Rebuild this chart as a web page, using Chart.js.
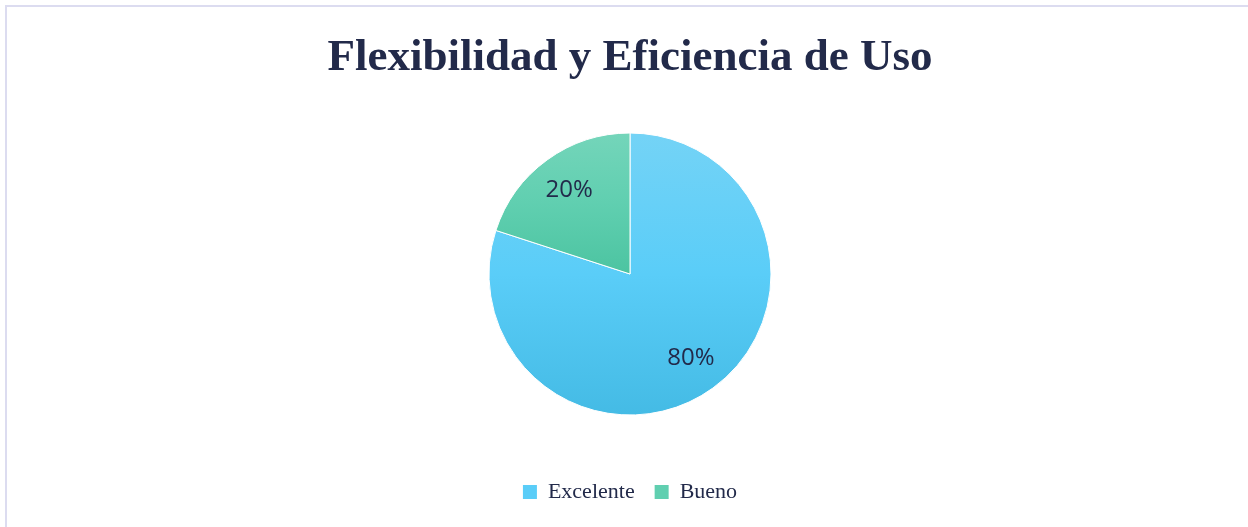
<!DOCTYPE html>
<html>
<head>
<meta charset="utf-8">
<script src="https://cdn.jsdelivr.net/npm/chart.js@4"></script>
<style>
  html, body { margin: 0; padding: 0; background: #fff; }
  #wrap { width: 1248px; height: 527px; position: relative; }
</style>
</head>
<body>
<div id="wrap"><canvas id="chartFlex"></canvas></div>
<script>
const categorias = ['Excelente', 'Bueno'];
const porcentajes = [80, 20];

// degradados verticales de cada sector (arriba -> abajo)
const degradados = [
  ['#74d3f6', '#5acdf8', '#44bbe5'],
  ['#74d5ba', '#60cfb0', '#4cc4a1']
];
const tinta = '#222a4a';

function pieBox(chart) {
  const a = chart.chartArea;
  const r = chart.getDatasetMeta(0).controller.outerRadius || Math.min(a.right - a.left, a.bottom - a.top) / 2;
  const cy = (a.top + a.bottom) / 2;
  return { cy, r };
}

function fillFor(ctx) {
  const chart = ctx.chart;
  if (!chart.chartArea) return degradados[ctx.dataIndex][1];
  const { cy, r } = pieBox(chart);
  const stops = degradados[ctx.dataIndex];
  // el sector pequeño solo ocupa la mitad superior
  const y1 = ctx.dataIndex === 1 ? cy : cy + r;
  const g = chart.ctx.createLinearGradient(0, cy - r, 0, y1);
  stops.forEach((c, i) => g.addColorStop(i / (stops.length - 1), c));
  return g;
}

const marco = {
  id: 'marco',
  beforeDraw(chart) {
    const c = chart.ctx;
    c.save();
    c.fillStyle = '#dcdcf0';
    c.fillRect(5, 5, chart.width - 5, 2);
    c.fillRect(5, 5, 2, chart.height - 5);
    c.restore();
  }
};

const etiquetas = {
  id: 'etiquetas',
  afterDatasetsDraw(chart) {
    const c = chart.ctx;
    const meta = chart.getDatasetMeta(0);
    c.save();
    c.font = '24px "Open Sans", "Noto Sans", sans-serif';
    c.fillStyle = tinta;
    c.textAlign = 'center';
    c.textBaseline = 'middle';
    meta.data.forEach((arc, i) => {
      const p = arc.getProps(['x', 'y', 'startAngle', 'endAngle', 'outerRadius'], true);
      const ang = (p.startAngle + p.endAngle) / 2;
      const d = p.outerRadius * 0.735;
      c.fillText(porcentajes[i] + '%', p.x + Math.cos(ang) * d, p.y + Math.sin(ang) * d);
    });
    c.restore();
  }
};

new Chart(document.getElementById('chartFlex'), {
  type: 'pie',
  data: {
    labels: categorias,
    datasets: [{
      data: porcentajes,
      backgroundColor: fillFor,
      borderColor: '#ffffff',
      borderWidth: 1,
      radius: 141
    }]
  },
  options: {
    responsive: true,
    maintainAspectRatio: false,
    animation: false,
    layout: { padding: { top: 31, bottom: 14, left: 12 } },
    plugins: {
      title: {
        display: true,
        text: 'Flexibilidad y Eficiencia de Uso',
        color: tinta,
        font: { family: '"Liberation Serif", "DejaVu Serif", serif', size: 45, weight: 'bold' },
        padding: { top: 0, bottom: 2 }
      },
      legend: {
        position: 'bottom',
        labels: {
          color: tinta,
          boxWidth: 14,
          boxHeight: 14,
          padding: 20,
          font: { family: '"Liberation Serif", "DejaVu Serif", serif', size: 22 },
          generateLabels: (chart) => categorias.map((nombre, i) => ({
            text: nombre,
            fillStyle: degradados[i][1],
            strokeStyle: degradados[i][1],
            lineWidth: 0,
            fontColor: tinta,
            hidden: !chart.getDataVisibility(i),
            index: i
          }))
        }
      },
      tooltip: { callbacks: { label: (ctx) => `${ctx.label}: ${ctx.raw}%` } }
    }
  },
  plugins: [marco, etiquetas]
});
</script>
</body>
</html>
